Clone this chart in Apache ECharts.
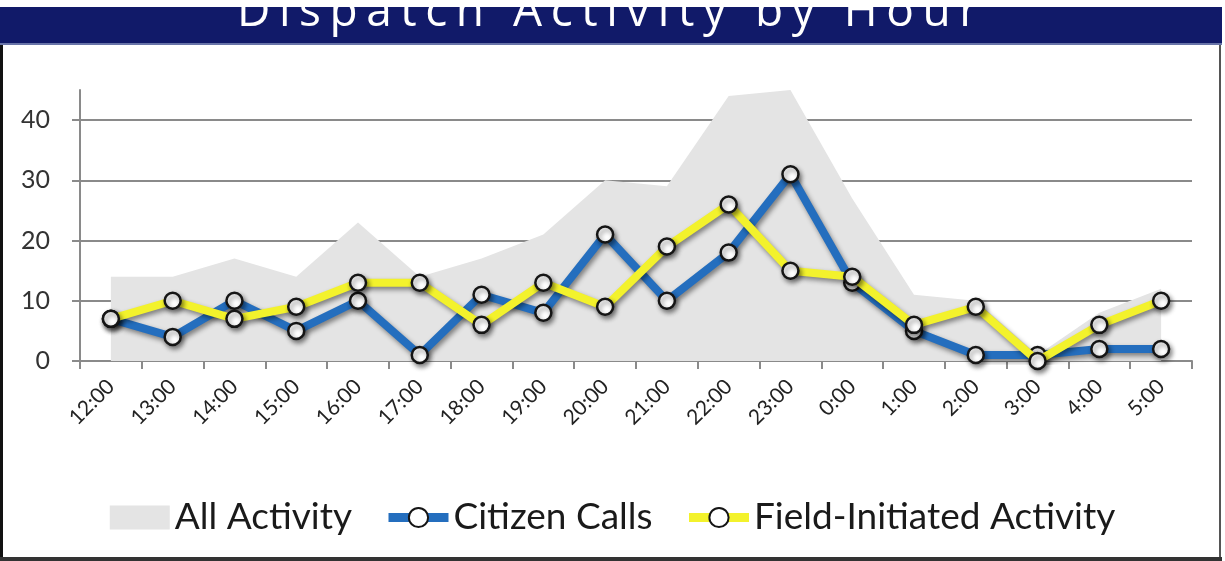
<!DOCTYPE html>
<html><head><meta charset="utf-8">
<script src="https://cdn.jsdelivr.net/npm/echarts@6/dist/echarts.min.js"></script>
<style>html,body{margin:0;padding:0;background:#fff}#c{width:1225px;height:561px}</style>
</head><body><div id="c"></div>
<script>
const titleText = 'Dispatch Activity by Hour';
const hours = ['12:00','13:00','14:00','15:00','16:00','17:00','18:00','19:00','20:00','21:00','22:00','23:00','0:00','1:00','2:00','3:00','4:00','5:00'];
const allActivity = [14,14,17,14,23,14,17,21,30,29,44,45,27,11,10,1,8,12];
const citizenCalls = [7,4,10,5,10,1,11,8,21,10,18,31,13,5,1,1,2,2];
const fieldInitiated = [7,10,7,9,13,13,6,13,9,19,26,15,14,6,9,0,6,10];
const yMin = 0, yMax = 45, yStep = 10;

// letter-spaced title: measure characters, place each one across the target span
const titleFont = '46px "Open Sans"';
const titleLeft = 237, titleRight = 978;
const cv = document.createElement('canvas').getContext('2d');
cv.font = titleFont;
const chars = [...titleText];
const widths = chars.map(ch => cv.measureText(ch).width);
const sumW = widths.reduce((a,b)=>a+b,0);
const spacing = (titleRight - titleLeft - sumW)/(chars.length-1);
let cx = titleLeft;
const titleChars = [];
chars.forEach((ch,i)=>{
  titleChars.push({type:'text', z:10, style:{text:ch, x:cx, y:36, font:titleFont, fill:'#ffffff', textAlign:'left', textVerticalAlign:'bottom'}, silent:true});
  cx += widths[i] + spacing;
});

const chart = echarts.init(document.getElementById('c'));
const shadow = {shadowColor:'rgba(0,0,0,0.45)', shadowBlur:5, shadowOffsetX:2, shadowOffsetY:3};
const markerStyle = Object.assign({color:'#ffffff', borderColor:'#151515', borderWidth:2.5}, shadow);

chart.setOption({
  animation:false,
  backgroundColor:'#ffffff',
  graphic:[
    {type:'rect', z:5, shape:{x:0,y:7,width:1222,height:37}, style:{fill:'#111a69'}, silent:true},
    {type:'rect', z:6, shape:{x:0,y:43,width:1222,height:2}, style:{fill:'#6874a8'}, silent:true},
    ...titleChars,
    {type:'rect', z:20, shape:{x:0,y:0,width:1225,height:7}, style:{fill:'#ffffff'}, silent:true},
    {type:'rect', z:5, shape:{x:0,y:44,width:3,height:517}, style:{fill:'#111111'}, silent:true},
    {type:'rect', z:5, shape:{x:1219,y:44,width:2,height:517}, style:{fill:'#555555'}, silent:true},
    {type:'rect', z:5, shape:{x:0,y:557,width:1222,height:4}, style:{fill:'#333333'}, silent:true}
  ],
  grid:{left:80, right:33, top:90, bottom:200},
  legend:{
    top:494, left:'center', itemWidth:60, itemHeight:24, itemGap:32,
    textStyle:{fontSize:37, color:'#1a1a1a', fontFamily:'Lato'},
    data:[
      {name:'All Activity', icon:'rect'},
      {name:'Citizen Calls', lineStyle:{width:9, color:'#246ebe'}},
      {name:'Field-Initiated Activity', lineStyle:{width:9, color:'#f3f22c'}}
    ]
  },
  xAxis:{
    type:'category', data:hours, boundaryGap:true,
    axisLine:{lineStyle:{color:'#8a8a8a', width:2}},
    axisTick:{show:true, length:8, interval:0, lineStyle:{color:'#8a8a8a', width:2}},
    axisLabel:{rotate:45, interval:0, fontSize:21, color:'#222222', margin:22, fontFamily:'Lato'}
  },
  yAxis:{
    type:'value', min:yMin, max:yMax, interval:yStep,
    axisLine:{show:true, lineStyle:{color:'#8a8a8a', width:2}},
    axisTick:{show:true, length:8, lineStyle:{color:'#8a8a8a', width:2}},
    axisLabel:{fontSize:25, color:'#333333', margin:30, showMaxLabel:false, fontFamily:'Lato'},
    splitLine:{show:true, showMaxLine:false, lineStyle:{color:'#8a8a8a', width:2}}
  },
  series:[
    {name:'All Activity', type:'line', data:allActivity, symbol:'none',
     lineStyle:{width:0}, itemStyle:{color:'#e4e4e4'}, areaStyle:{color:'#e4e4e4', opacity:1}, z:1},
    {name:'Citizen Calls', type:'line', data:citizenCalls, symbol:'circle', symbolSize:16,
     lineStyle:Object.assign({color:'#246ebe', width:8}, shadow), itemStyle:Object.assign({}, markerStyle), color:'#246ebe', z:3},
    {name:'Field-Initiated Activity', type:'line', data:fieldInitiated, symbol:'circle', symbolSize:16,
     lineStyle:Object.assign({color:'#f3f22c', width:8}, shadow), itemStyle:Object.assign({}, markerStyle), color:'#f3f22c', z:4}
  ]
});
</script></body></html>
